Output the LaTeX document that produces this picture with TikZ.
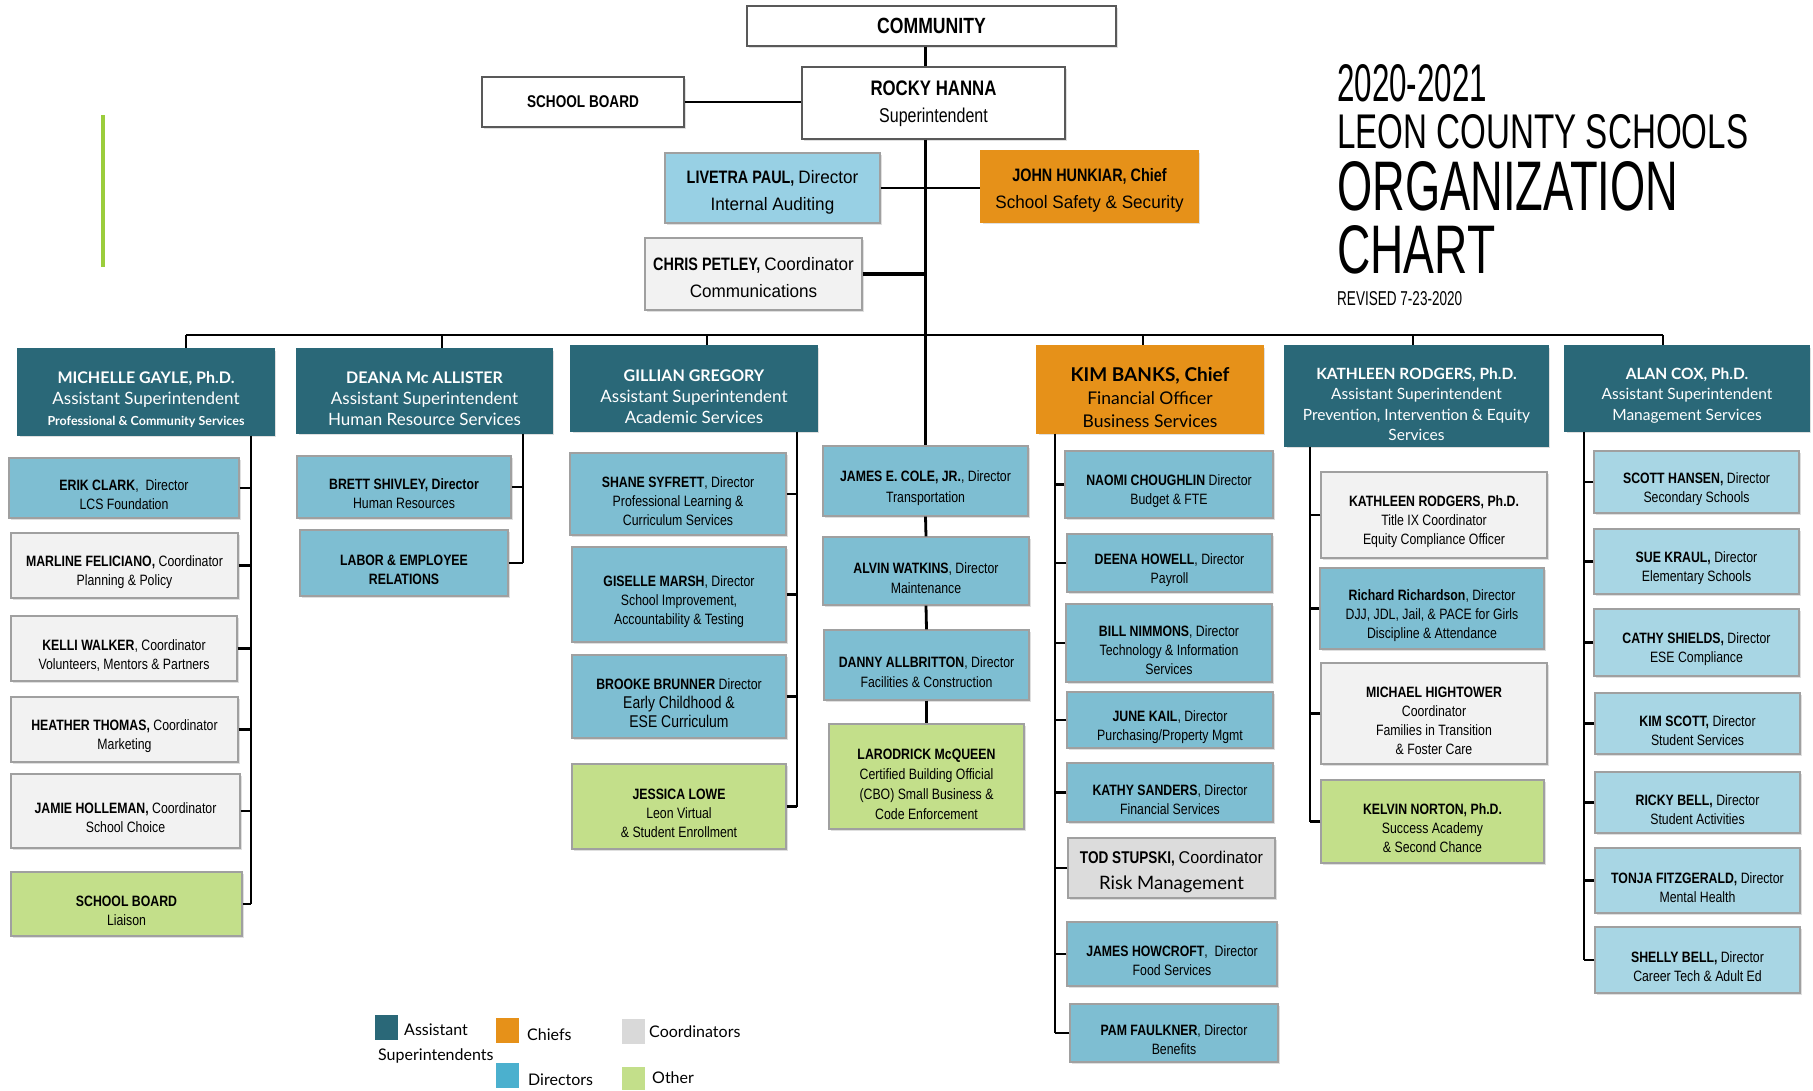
\documentclass[tikz,border=0pt]{standalone}
\usepackage{graphicx}
\usepackage{fontspec}
\setmainfont{Liberation Sans}
\newfontfamily\nar[FakeStretch=0.82]{Liberation Sans}
\newfontfamily\cond[FakeStretch=0.8]{Liberation Sans}
\newfontfamily\condr[FakeStretch=0.95]{Liberation Sans}
\newfontfamily\lat{Lato}
\usetikzlibrary{shadows}
\definecolor{tealbox}{RGB}{42,104,120}
\definecolor{dirblue}{RGB}{126,190,210}
\definecolor{ltblue}{RGB}{168,214,228}
\definecolor{lpblue}{RGB}{152,208,228}
\definecolor{orng}{RGB}{230,145,25}
\definecolor{coordg}{RGB}{242,242,242}
\definecolor{coordg2}{RGB}{220,220,220}
\definecolor{othergr}{RGB}{195,223,138}
\definecolor{legblue}{RGB}{75,176,206}
\definecolor{leggray}{RGB}{217,217,217}
\definecolor{gline}{RGB}{155,205,60}
\definecolor{bord}{RGB}{160,160,160}
\def\tpadv{0}
\newcommand\obox[7]{\node[#2, minimum width={#5-#3}, minimum height={#6-#4}] (#1) at ({(#3+#5)/2},{(#4+#6)/2}) {\rule{0pt}{\tpadv pt}#7};}
\tikzset{
 boxbase/.style={align=center, inner sep=2pt, draw=bord, line width=1.4pt, text=black,
   drop shadow={shadow xshift=1.5pt,shadow yshift=-1.5pt,opacity=0.25}},
 toppad/.style={execute at begin node={\def\tpadv{#1}}},
 topbox/.style={boxbase, draw=black!65, fill=white, font=\cond\fontsize{18}{27}\selectfont, toppad=0},
 hdr/.style={boxbase, draw=tealbox, fill=tealbox, text=white, font=\lat\fontsize{17}{21}\selectfont, toppad=28},
 hdrs/.style={hdr, font=\lat\fontsize{15.5}{20.5}\selectfont},
 chief/.style={boxbase, draw=orng, fill=orng, font=\lat\fontsize{17.5}{23}\selectfont, toppad=30},
 dirbox/.style={boxbase, fill=dirblue, font=\nar\fontsize{15}{19}\selectfont, toppad=25},
 ldir/.style={dirbox, fill=ltblue},
 crd/.style={dirbox, fill=coordg},
 oth/.style={dirbox, fill=othergr},
 conn/.style={line width=2.8pt, black},
 tconn/.style={line width=2.4pt, black},
 legtxt/.style={font=\lat\fontsize{16}{19}\selectfont, inner sep=0pt, anchor=base west},
 legsq/.style={inner sep=0pt, anchor=north west},
 ttl/.style={inner sep=0pt, anchor=south west},
}
\begin{document}
\begin{tikzpicture}[x=1pt,y=-1pt]
\fill[white] (0,0) rectangle (1813,1090);
\useasboundingbox (0,0) rectangle (1813,1090);

% decorative green bar
\draw[gline, line width=4pt] (103,115) -- (103,267);

% title
\node[ttl] (ti1) at (1337,102) {\resizebox{150pt}{37pt}{2020-2021}};
\node[ttl] (ti2) at (1337,149) {\resizebox{411pt}{34pt}{LEON COUNTY SCHOOLS}};
\node[ttl] (ti3) at (1337,211) {\resizebox{341pt}{49pt}{ORGANIZATION}};
\node[ttl] (ti4) at (1337,274) {\resizebox{158pt}{48pt}{CHART}};
\node[ttl] (ti5) at (1337,306) {\resizebox{125pt}{14pt}{REVISED 7-23-2020}};

% top
\obox{cm}{topbox}{747}{6}{1116}{46}{\fontsize{22}{26}\selectfont\bfseries COMMUNITY}
\obox{rh}{topbox, toppad=17}{802}{67}{1065}{139}{{\fontsize{21}{30}\selectfont\bfseries ROCKY HANNA}\\ {\fontsize{20}{30}\selectfont Superintendent}}
\obox{sb}{topbox}{482}{77}{684}{127}{\fontsize{17}{20}\selectfont\bfseries SCHOOL BOARD}
\obox{lp}{topbox, fill=lpblue, draw=bord, toppad=21}{665}{153}{880}{223}{\textbf{LIVETRA PAUL,} {\condr Director}\\ {\condr Internal Auditing}}
\obox{jh}{topbox, fill=orng, draw=orng, toppad=21}{981}{151}{1198}{222}{\textbf{JOHN HUNKIAR, Chief}\\ {\condr School Safety \& Security}}
\obox{cp}{topbox, fill=coordg, draw=bord, toppad=20}{645}{238}{862}{310}{\textbf{CHRIS PETLEY,} {\condr Coordinator}\\ {\condr Communications}}

% headers
\obox{mg}{hdr}{18}{349}{274}{435}{{\fontsize{16}{21}\selectfont\bfseries MICHELLE GAYLE, Ph.D.}\\ Assistant Superintendent\\ {\fontsize{12.5}{21}\selectfont\bfseries Professional \& Community Services}}
\obox{dm}{hdr}{297}{349}{552}{433}{{\fontsize{16}{21}\selectfont\bfseries DEANA Mc ALLISTER}\\ Assistant Superintendent\\ Human Resource Services}
\obox{gg}{hdr}{571}{346}{817}{431}{{\fontsize{16}{21}\selectfont\bfseries GILLIAN GREGORY}\\ Assistant Superintendent\\ Academic Services}
\obox{kb}{chief}{1037}{346}{1263}{433}{{\fontsize{19}{23}\selectfont\bfseries KIM BANKS, Chief}\\ Financial Officer\\ Business Services}
\obox{kr}{hdrs, toppad=28}{1285}{346}{1548}{446}{{\bfseries KATHLEEN RODGERS, Ph.D.}\\ Assistant Superintendent\\ Prevention, Intervention \& Equity\\ Services}
\obox{ac}{hdrs, toppad=25}{1565}{346}{1809}{431}{{\bfseries ALAN COX, Ph.D.}\\ Assistant Superintendent\\ Management Services}

% Michelle Gayle column
\obox{ec}{dirbox}{9}{458}{239}{518}{\textbf{ERIK CLARK},~ Director\\ LCS Foundation}
\obox{mf}{crd}{11}{533}{238}{598}{\textbf{MARLINE FELICIANO,} Coordinator\\ Planning \& Policy}
\obox{kw}{crd}{11}{616}{237}{681}{\textbf{KELLI WALKER}, Coordinator\\ Volunteers, Mentors \& Partners}
\obox{ht}{crd}{11}{697}{238}{762}{\textbf{HEATHER THOMAS,} Coordinator\\ Marketing}
\obox{jho}{crd}{11}{774}{240}{848}{\textbf{JAMIE HOLLEMAN,} Coordinator\\ School Choice}
\obox{sbl}{oth}{11}{872}{242}{936}{\textbf{SCHOOL BOARD}\\ Liaison}

% Deana column
\obox{bs}{dirbox}{297}{456}{511}{518}{\textbf{BRETT SHIVLEY, Director}\\ Human Resources}
\obox{le}{dirbox}{300}{530}{508}{596}{\textbf{LABOR \& EMPLOYEE}\\ \textbf{RELATIONS}}

% Gillian column
\obox{ss}{dirbox}{570}{453}{786}{535}{\textbf{SHANE SYFRETT}, Director\\ Professional Learning \&\\ Curriculum Services}
\obox{gm}{dirbox}{572}{547}{786}{642}{\textbf{GISELLE MARSH}, Director\\ School Improvement,\\ Accountability \& Testing}
\obox{bb}{dirbox}{572}{655}{786}{738}{\textbf{BROOKE BRUNNER} Director\\ {\fontsize{17}{19}\selectfont Early Childhood \&}\\ {\fontsize{17}{19}\selectfont ESE Curriculum}}
\obox{jl}{oth}{572}{764}{786}{849}{\textbf{JESSICA LOWE}\\ Leon Virtual\\ \& Student Enrollment}

% trunk column
\obox{jc}{dirbox, font=\nar\fontsize{15}{20.5}\selectfont}{823}{446}{1028}{516}{\textbf{JAMES E. COLE, JR.}, Director\\ Transportation}
\obox{aw}{dirbox, font=\nar\fontsize{15}{20}\selectfont}{823}{537}{1029}{605}{\textbf{ALVIN WATKINS}, Director\\ Maintenance}
\obox{da}{dirbox, font=\nar\fontsize{15}{20.5}\selectfont}{824}{630}{1029}{700}{\textbf{DANNY ALLBRITTON}, Director\\ Facilities \& Construction}
\obox{lm}{oth, font=\nar\fontsize{15}{20}\selectfont, toppad=27}{829}{724}{1024}{829}{\textbf{LARODRICK McQUEEN}\\ Certified Building Official\\ (CBO) Small Business \&\\ Code Enforcement}

% Kim Banks column
\obox{nc}{dirbox}{1065}{451}{1273}{518}{\textbf{NAOMI CHOUGHLIN} Director\\ Budget \& FTE}
\obox{dh}{dirbox}{1067}{534}{1272}{592}{\textbf{DEENA HOWELL}, Director\\ Payroll}
\obox{bn}{dirbox}{1066}{604}{1272}{682}{\textbf{BILL NIMMONS}, Director\\ Technology \& Information\\ Services}
\obox{jk}{dirbox}{1067}{692}{1273}{748}{\textbf{JUNE KAIL}, Director\\ Purchasing/Property Mgmt}
\obox{ks}{dirbox}{1067}{763}{1273}{822}{\textbf{KATHY SANDERS}, Director\\ Financial Services}
\obox{ts}{dirbox, fill=coordg2, font=\cond\fontsize{17}{26}\selectfont, toppad=20}{1068}{838}{1275}{898}{\textbf{TOD STUPSKI,} {\condr Coordinator}\\ {\lat\fontsize{18.5}{26}\selectfont Risk Management}}
\obox{jhw}{dirbox}{1067}{922}{1277}{986}{\textbf{JAMES HOWCROFT},~ Director\\ Food Services}
\obox{pf}{dirbox}{1070}{1004}{1278}{1062}{\textbf{PAM FAULKNER}, Director\\ Benefits}

% Kathleen column
\obox{kr2}{crd}{1321}{472}{1547}{558}{\textbf{KATHLEEN RODGERS, Ph.D.}\\ Title IX Coordinator\\ Equity Compliance Officer}
\obox{rr}{dirbox}{1320}{568}{1544}{649}{\textbf{Richard Richardson}, Director\\ DJJ, JDL, Jail, \& PACE for Girls\\ Discipline \& Attendance}
\obox{mh}{crd}{1321}{663}{1547}{764}{\textbf{MICHAEL HIGHTOWER}\\ Coordinator\\ Families in Transition\\ \& Foster Care}
\obox{kn}{oth}{1321}{780}{1544}{863}{\textbf{KELVIN NORTON, Ph.D.}\\ Success Academy\\ \& Second Chance}

% Alan Cox column
\obox{sh}{ldir}{1594}{451}{1799}{513}{\textbf{SCOTT HANSEN,} Director\\ Secondary Schools}
\obox{sk}{ldir}{1594}{529}{1799}{594}{\textbf{SUE KRAUL,} Director\\ Elementary Schools}
\obox{cs}{ldir}{1594}{609}{1799}{676}{\textbf{CATHY SHIELDS,} Director\\ ESE Compliance}
\obox{ksc}{ldir}{1595}{693}{1800}{754}{\textbf{KIM SCOTT,} Director\\ Student Services}
\obox{rb}{ldir}{1595}{772}{1800}{833}{\textbf{RICKY BELL,} Director\\ Student Activities}
\obox{tf}{ldir}{1595}{848}{1800}{913}{\textbf{TONJA FITZGERALD,} Director\\ Mental Health}
\obox{shb}{ldir}{1595}{927}{1800}{993}{\textbf{SHELLY BELL,} Director\\ Career Tech \& Adult Ed}

% ---------- connectors ----------
\draw[tconn] (cm.south -| jc.north) -- (rh.north -| jc.north);
\draw[tconn] (sb.east) -- (sb.east -| rh.west);
\draw[conn] (rh.south -| jc.north) -- (jc.north);
\draw[conn] (lp.east) -- (lp.east -| jh.west);
\draw[conn, line width=3.2pt] (cp.east) -- (cp.east -| jc.north);
\draw[conn] (jc.south) -- (aw.north);
\draw[conn] (aw.south) -- (da.north);
\draw[conn] (da.south) -- (lm.north);

% bus
\coordinate (b1) at (186,335);
\coordinate (b2) at (442,335);
\coordinate (b3) at (707,335);
\coordinate (b4) at (1143,335);
\coordinate (b5) at (1413,335);
\coordinate (b6) at (1663,335);
\draw[conn] (b1) -- (b6);
\draw[tconn, line width=1.6pt] (b1) -- (b1 |- mg.north);
\draw[tconn, line width=1.6pt] (b2) -- (b2 |- dm.north);
\draw[tconn, line width=1.6pt] (b3) -- (b3 |- gg.north);
\draw[tconn, line width=1.6pt] (b4) -- (b4 |- kb.north);
\draw[tconn, line width=1.6pt] (b5) -- (b5 |- kr.north);
\draw[tconn, line width=1.6pt] (b6) -- (b6 |- ac.north);

% branch verticals
\coordinate (vm) at (251,0);
\coordinate (vd) at (523,0);
\coordinate (vg) at (797,0);
\coordinate (vk) at (1055,0);
\coordinate (vr) at (1310,0);
\coordinate (va) at (1584,0);

\draw[conn] (mg.south -| vm) -- (sbl.east -| vm);
\foreach \n in {ec,mf,kw,ht,jho,sbl} \draw[conn] (\n.east) -- (\n.east -| vm);

\draw[conn] (dm.south -| vd) -- (le.east -| vd);
\foreach \n in {bs,le} \draw[conn] (\n.east) -- (\n.east -| vd);

\draw[conn] (gg.south -| vg) -- (jl.east -| vg);
\foreach \n in {ss,gm,bb,jl} \draw[conn] (\n.east) -- (\n.east -| vg);

\draw[conn] (kb.south -| vk) -- (pf.west -| vk);
\foreach \n in {nc,dh,bn,jk,ks,ts,jhw,pf} \draw[conn] (\n.west) -- (\n.west -| vk);

\draw[conn] (kr.south -| vr) -- (kn.west -| vr);
\foreach \n in {kr2,rr,mh,kn} \draw[conn] (\n.west) -- (\n.west -| vr);

\draw[conn] (ac.south -| va) -- (shb.west -| va);
\foreach \n in {sh,sk,cs,ksc,rb,tf,shb} \draw[conn] (\n.west) -- (\n.west -| va);

% ---------- legend ----------
\node[legsq, fill=tealbox, minimum width=23, minimum height=25] (lg1) at (375,1015) {};
\node[legsq, fill=orng, minimum width=23, minimum height=25] (lg2) at (496,1018) {};
\node[legsq, fill=leggray, minimum width=23, minimum height=25] (lg3) at (622,1019) {};
\node[legsq, fill=legblue, minimum width=23, minimum height=25] (lg4) at (496,1063) {};
\node[legsq, fill=othergr, minimum width=23, minimum height=23] (lg5) at (622,1067) {};
\node[legtxt] (lt1) at (404,1035) {Assistant};
\node[legtxt] (lt1b) at (378,1060) {Superintendents};
\node[legtxt] (lt2) at (527,1040) {Chiefs};
\node[legtxt] (lt3) at (649,1037) {Coordinators};
\node[legtxt] (lt4) at (528,1085) {Directors};
\node[legtxt] (lt5) at (652,1083) {Other};
\end{tikzpicture}
\end{document}
